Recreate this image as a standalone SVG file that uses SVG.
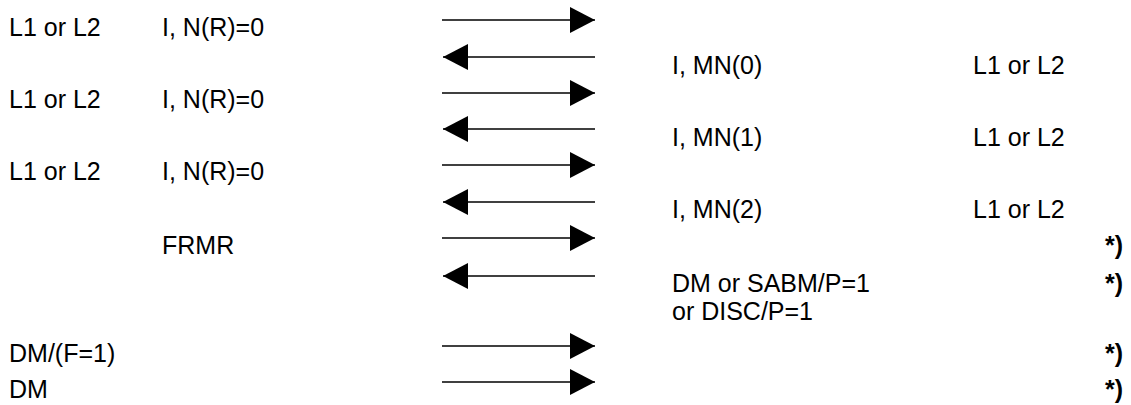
<svg xmlns="http://www.w3.org/2000/svg" width="1131" height="405" viewBox="0 0 1131 405">
<style>
text{font-family:"Liberation Sans",Arial,sans-serif;font-size:25px;fill:#000}
.b{font-weight:bold}
.ln{stroke:#000;stroke-width:1.3;fill:none}
</style>
<defs>
<marker id="ah" markerUnits="userSpaceOnUse" markerWidth="26" markerHeight="28" refX="25" refY="13" orient="auto">
<path d="M0,0 L25,13 L0,26 Z" fill="#000"/>
</marker>
</defs>
<rect width="1131" height="405" fill="#fff"/>
<g id="connectors">
<line class="ln" x1="442" y1="20" x2="595" y2="20" marker-end="url(#ah)"/>
<line class="ln" x1="595" y1="57" x2="443" y2="57" marker-end="url(#ah)"/>
<line class="ln" x1="442" y1="93" x2="595" y2="93" marker-end="url(#ah)"/>
<line class="ln" x1="595" y1="129" x2="443" y2="129" marker-end="url(#ah)"/>
<line class="ln" x1="442" y1="165" x2="595" y2="165" marker-end="url(#ah)"/>
<line class="ln" x1="595" y1="202" x2="443" y2="202" marker-end="url(#ah)"/>
<line class="ln" x1="442" y1="238" x2="595" y2="238" marker-end="url(#ah)"/>
<line class="ln" x1="595" y1="276" x2="443" y2="276" marker-end="url(#ah)"/>
<line class="ln" x1="442" y1="346" x2="595" y2="346" marker-end="url(#ah)"/>
<line class="ln" x1="442" y1="382" x2="595" y2="382" marker-end="url(#ah)"/>
</g>
<g id="left">
<text x="9" y="36">L1 or L2</text><text x="162" y="36">I, N(R)=0</text>
<text x="9" y="108">L1 or L2</text><text x="162" y="108">I, N(R)=0</text>
<text x="9" y="180">L1 or L2</text><text x="162" y="180">I, N(R)=0</text>
<text x="162" y="254">FRMR</text>
<text x="9" y="362">DM/(F=1)</text>
<text x="9" y="398">DM</text>
</g>
<g id="right">
<text x="672" y="74">I, MN(0)</text><text x="973" y="74">L1 or L2</text>
<text x="672" y="146">I, MN(1)</text><text x="973" y="146">L1 or L2</text>
<text x="672" y="218">I, MN(2)</text><text x="973" y="218">L1 or L2</text>
<text x="672" y="292">DM or SABM/P=1</text>
<text x="672" y="320">or DISC/P=1</text>
<text class="b" x="1105" y="254">*)</text>
<text class="b" x="1105" y="292">*)</text>
<text class="b" x="1105" y="362">*)</text>
<text class="b" x="1105" y="398">*)</text>
</g>
</svg>
